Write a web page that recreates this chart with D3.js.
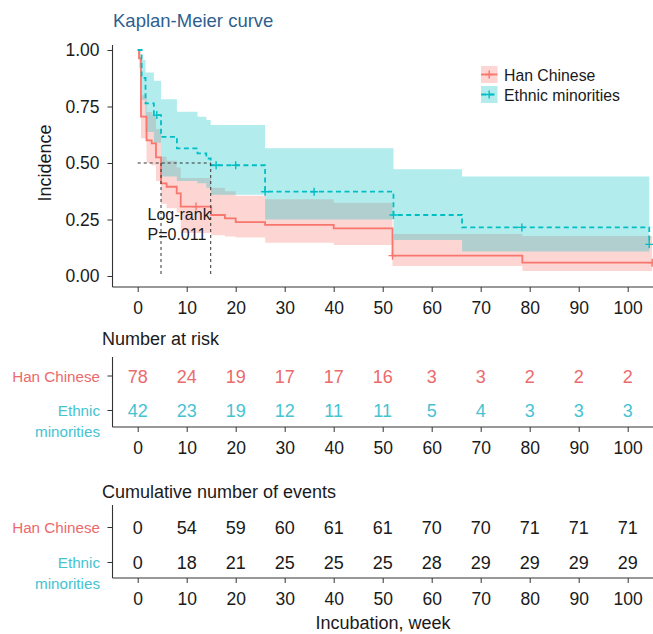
<!DOCTYPE html>
<html>
<head>
<meta charset="utf-8">
<script src="https://cdn.jsdelivr.net/npm/d3@7/dist/d3.min.js"></script>
<style>
  html, body { margin: 0; padding: 0; background: #fff; }
  svg text { font-family: "Liberation Sans", Arial, Helvetica, sans-serif; }
</style>
</head>
<body>
<svg id="chart" width="653" height="634"></svg>
<script>
// ---- survival estimates (step functions) ----
const hanTime  = [0, 0.27, 0.67, 1.8, 2.86, 3.73, 4.76, 5.9, 7.96, 8.78, 15, 17.8, 20, 26, 40, 52, 78.5, 105];
const hanSurv  = [1, 0.963, 0.705, 0.60, 0.587, 0.525, 0.41, 0.395, 0.366, 0.307, 0.27, 0.255, 0.238, 0.226, 0.211, 0.09, 0.059, 0.059];
const hanUpper = [1, 1.0, 0.80, 0.726, 0.71, 0.65, 0.528, 0.51, 0.48, 0.434, 0.39, 0.375, 0.355, 0.34, 0.324, 0.186, 0.177, 0.177];
const hanLower = [1, 0.92, 0.61, 0.50, 0.49, 0.42, 0.32, 0.30, 0.28, 0.19, 0.18, 0.175, 0.17, 0.147, 0.137, 0.044, 0.022, 0.022];
const hanCensor = [11.9, 52, 105];

const ethTime  = [0, 0.8, 1.6, 3.3, 4.76, 8.0, 12.2, 14.0, 14.9, 26, 52.2, 66.2, 104.4];
const ethSurv  = [1, 0.876, 0.764, 0.712, 0.616, 0.565, 0.543, 0.52, 0.49, 0.373, 0.27, 0.215, 0.14];
const ethUpper = [1, 0.956, 0.90, 0.864, 0.782, 0.727, 0.705, 0.69, 0.668, 0.565, 0.472, 0.44, 0.44];
const ethLower = [1, 0.78, 0.637, 0.59, 0.44, 0.42, 0.41, 0.39, 0.36, 0.25, 0.159, 0.108, 0.108];
const ethCensor = [3.9, 16, 20, 26, 36, 52.2, 78.4, 104.4];

// ---- tables ----
const timeTicks = [0, 10, 20, 30, 40, 50, 60, 70, 80, 90, 100];
const yTicks = [0, 0.25, 0.5, 0.75, 1];
const hanAtRisk = [78, 24, 19, 17, 17, 16, 3, 3, 2, 2, 2];
const ethAtRisk = [42, 23, 19, 12, 11, 11, 5, 4, 3, 3, 3];
const hanEvents = [0, 54, 59, 60, 61, 61, 70, 70, 71, 71, 71];
const ethEvents = [0, 18, 21, 25, 25, 25, 28, 29, 29, 29, 29];

const groups = ["Han Chinese", "Ethnic minorities"];

// ---- styling ----
const RED = "#F8766D", TEAL = "#00BFC4";
const RED_TXT = "#EB6A6C", TEAL_TXT = "#45C3D2";
const INK = "#1a1a1a";
const axisLeft = 112.5, axisRight = 653;

const svg = d3.select("#chart");
const x = d3.scaleLinear().domain([0, 100]).range([137.7, 627.7]);
const y = d3.scaleLinear().domain([0, 1]).range([276, 50]);

const zip = (t, v) => t.map((d, i) => ({ t: d, v: v[i] }));
const band = (t, lo, hi) => t.map((d, i) => ({ t: d, lo: lo[i], hi: hi[i] }));
const stepAt = (t, v, at) => v[Math.max(0, d3.bisectRight(t, at) - 1)];

// title
svg.append("text").attr("x", 113).attr("y", 27).attr("font-size", 18.5)
  .attr("fill", "#2F5F8F").text("Kaplan-Meier curve");

// ---- main panel ----
const plot = svg.append("g");
const areaGen = d3.area().x(d => x(d.t)).y0(d => y(d.lo)).y1(d => y(d.hi)).curve(d3.curveStepAfter);
const lineGen = d3.line().x(d => x(d.t)).y(d => y(d.v)).curve(d3.curveStepAfter);

plot.append("path").datum(band(hanTime, hanLower, hanUpper)).attr("d", areaGen)
  .attr("fill", RED).attr("fill-opacity", 0.3);
plot.append("path").datum(band(ethTime, ethLower, ethUpper)).attr("d", areaGen)
  .attr("fill", TEAL).attr("fill-opacity", 0.3);

plot.append("path").datum(zip(hanTime, hanSurv)).attr("d", lineGen)
  .attr("fill", "none").attr("stroke", RED).attr("stroke-width", 1.8);
plot.append("path").datum(zip(ethTime, ethSurv)).attr("d", lineGen)
  .attr("fill", "none").attr("stroke", TEAL).attr("stroke-width", 1.8)
  .attr("stroke-dasharray", "5,3.5");

const plus = (g, cx, cy, color) => g.append("path")
  .attr("d", `M${cx - 4},${cy}H${cx + 4}M${cx},${cy - 4}V${cy + 4}`)
  .attr("stroke", color).attr("stroke-width", 1.4).attr("fill", "none");

hanCensor.forEach(c => plus(plot, x(c), y(stepAt(hanTime, hanSurv, c)), RED));
ethCensor.forEach(c => plus(plot, x(c), y(stepAt(ethTime, ethSurv, c)), TEAL));

// median survival guides
const median = (t, v) => t[v.findIndex(s => s <= 0.5)];
const medHan = median(hanTime, hanSurv), medEth = median(ethTime, ethSurv);
const guide = plot.append("g").attr("stroke", "#333").attr("stroke-width", 1)
  .attr("stroke-dasharray", "3,3").attr("fill", "none");
guide.append("path").attr("d", `M${x(0)},${y(0.5)}H${x(Math.max(medHan, medEth))}`);
[medHan, medEth].forEach(m => guide.append("path").attr("d", `M${x(m)},${y(0.5)}V${y(0)}`));

// log-rank annotation
const ann = svg.append("g").attr("font-size", 16).attr("fill", INK);
ann.append("text").attr("x", 147.5).attr("y", 220).text("Log-rank");
ann.append("text").attr("x", 147.5).attr("y", 240).text("P=0.011");

// axes
svg.append("line").attr("x1", axisLeft).attr("x2", axisLeft).attr("y1", 45).attr("y2", 287)
  .attr("stroke", "#333").attr("stroke-width", 1.1);
svg.append("line").attr("x1", axisLeft).attr("x2", axisRight).attr("y1", 287).attr("y2", 287)
  .attr("stroke", "#333").attr("stroke-width", 1.1);

function styleAxis(g) {
  g.select(".domain").remove();
  g.selectAll(".tick line").attr("stroke", "#333");
  g.selectAll(".tick text").attr("fill", INK).attr("font-size", 17.5)
    .attr("font-family", '"Liberation Sans", Arial, sans-serif');
}

svg.append("g").attr("transform", `translate(${axisLeft},0)`)
  .call(d3.axisLeft(y).tickValues(yTicks).tickFormat(d3.format(".2f")).tickSize(5).tickPadding(8))
  .call(styleAxis);

svg.append("g").attr("transform", "translate(0,287)")
  .call(d3.axisBottom(x).tickValues(timeTicks).tickSize(5).tickPadding(10))
  .call(styleAxis);

svg.append("text").attr("transform", "translate(51,163) rotate(-90)")
  .attr("text-anchor", "middle").attr("font-size", 18).attr("fill", INK).text("Incidence");

// legend
const leg = svg.append("g");
[[RED, null], [TEAL, "5,3.5"]].forEach(([c, dash], i) => {
  const ky = 66 + i * 20;
  leg.append("rect").attr("x", 481).attr("y", ky).attr("width", 16.5).attr("height", 17)
    .attr("fill", c).attr("fill-opacity", 0.3);
  leg.append("line").attr("x1", 481).attr("x2", 497.5).attr("y1", ky + 8.5).attr("y2", ky + 8.5)
    .attr("stroke", c).attr("stroke-width", 1.8).attr("stroke-dasharray", dash);
  plus(leg, 489.2, ky + 8.5, c);
  leg.append("text").attr("x", 504).attr("y", ky + 14.5).attr("font-size", 15.8)
    .attr("fill", INK).text(groups[i]);
});

// ---- risk / event tables ----
function table(cfg) {
  const g = svg.append("g");
  g.append("text").attr("x", 102).attr("y", cfg.titleY).attr("font-size", 18).attr("fill", INK)
    .text(cfg.title);
  g.append("line").attr("x1", axisLeft).attr("x2", axisLeft).attr("y1", cfg.top).attr("y2", cfg.axisY)
    .attr("stroke", "#333").attr("stroke-width", 1.1);
  g.append("line").attr("x1", axisLeft).attr("x2", axisRight).attr("y1", cfg.axisY).attr("y2", cfg.axisY)
    .attr("stroke", "#333").attr("stroke-width", 1.1);
  g.append("g").attr("transform", `translate(0,${cfg.axisY})`)
    .call(d3.axisBottom(x).tickValues(timeTicks).tickSize(5).tickPadding(9.5))
    .call(styleAxis);

  const rows = [
    { vals: cfg.han, y: cfg.rowY[0], color: cfg.colored ? RED_TXT : INK, lab: RED_TXT, label: ["Han Chinese"] },
    { vals: cfg.eth, y: cfg.rowY[1], color: cfg.colored ? TEAL_TXT : INK, lab: TEAL_TXT, label: ["Ethnic", "minorities"] }
  ];
  rows.forEach(r => {
    g.append("line").attr("x1", axisLeft - 5).attr("x2", axisLeft).attr("y1", r.y).attr("y2", r.y)
      .attr("stroke", "#333");
    r.label.forEach((l, j) => g.append("text").attr("x", 100).attr("y", r.y + 5.5 + j * 21)
      .attr("text-anchor", "end").attr("font-size", 15.2).attr("fill", r.lab).text(l));
    g.selectAll(null).data(r.vals).enter().append("text")
      .attr("x", (d, i) => x(timeTicks[i])).attr("y", r.y + 6.5)
      .attr("text-anchor", "middle").attr("font-size", 18).attr("fill", r.color).text(d => d);
  });
}

table({ title: "Number at risk", titleY: 345, top: 357, axisY: 427, rowY: [376, 410.5],
  han: hanAtRisk, eth: ethAtRisk, colored: true });
table({ title: "Cumulative number of events", titleY: 497.5, top: 505, axisY: 578, rowY: [527.5, 562.5],
  han: hanEvents, eth: ethEvents, colored: false });

svg.append("text").attr("x", 383).attr("y", 629).attr("text-anchor", "middle")
  .attr("font-size", 18).attr("fill", INK).text("Incubation, week");
</script>
</body>
</html>
